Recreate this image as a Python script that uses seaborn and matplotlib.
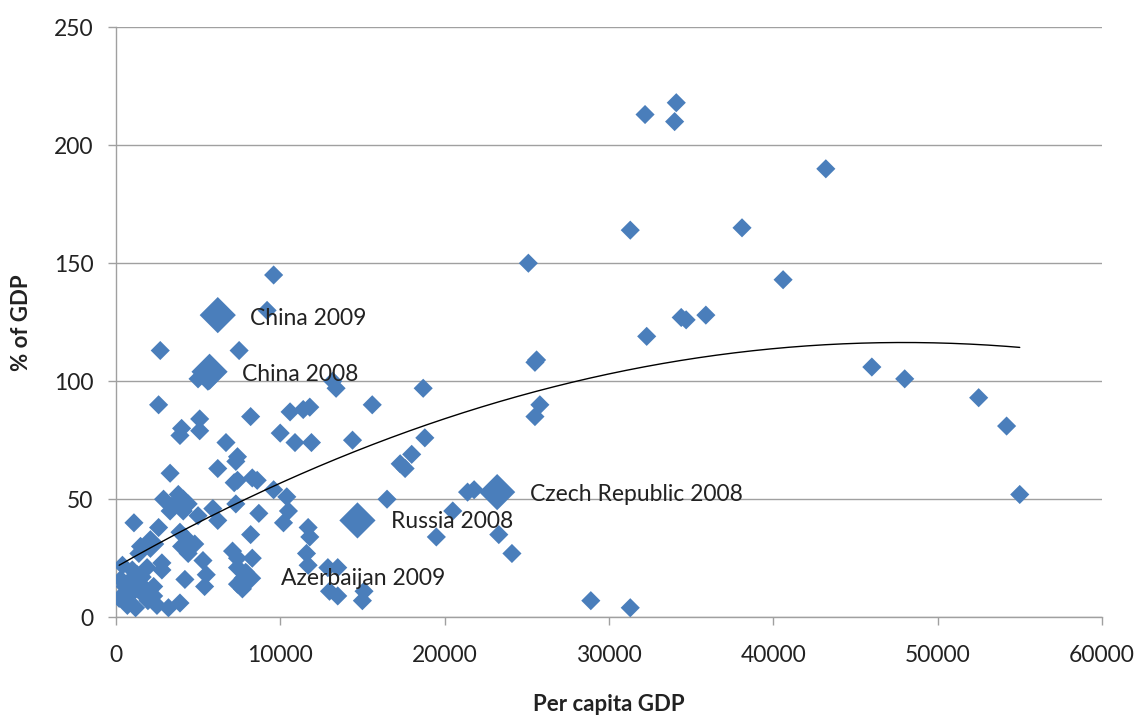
import numpy as np
import pandas as pd
import seaborn as sns
import matplotlib.pyplot as plt

# per capita GDP / % of GDP
gdp_x = [32200, 34100, 34000, 43200, 31300, 38100, 40600, 25100, 32300, 34400,
         34700, 35900, 25500, 25600, 25800, 25500, 46000, 48000, 52500, 54200,
         55000, 28900, 31300,
         21400, 21800, 20500, 23300, 24100, 19500, 16500, 18700, 18800, 18000,
         17300, 17600, 15600, 14400, 15100, 15000, 13000, 13500, 12900, 13500,
         11700, 11600, 11800, 11700, 10200, 10500, 10400, 9600, 13200, 13400,
         10600, 11400, 11800, 10000, 10900, 11900, 9600, 9200, 8200, 8300,
         8600, 7400, 7200, 7400, 7300, 6700, 6200, 7500, 2700, 5000, 5600,
         8700, 8200, 8300, 7100, 7400, 7400, 7900, 7400, 7700, 7300,
         5900, 6200, 5000, 4000, 3400, 4400, 3300, 2900, 3800, 4100, 3300,
         4100, 2600, 3900, 4000, 5100, 5100, 3900, 4200, 4000, 4400, 4800,
         5300, 5500, 5400, 4200,
         2600, 1100, 2800, 2800, 1900, 400, 1000, 550, 1200, 1600, 550,
         1950, 2300, 1200, 3200, 3900, 1400, 1500, 800, 300, 1600, 2300,
         200, 700, 1300, 1800, 2500, 900]
gdp_y = [213, 218, 210, 190, 164, 165, 143, 150, 119, 127,
         126, 128, 108, 109, 90, 85, 106, 101, 93, 81,
         52, 7, 4,
         53, 54, 45, 35, 27, 34, 50, 97, 76, 69,
         65, 63, 90, 75, 11, 7, 11, 9, 21, 21,
         22, 27, 34, 38, 40, 45, 51, 54, 100, 97,
         87, 88, 89, 78, 74, 74, 145, 130, 85, 59,
         58, 58, 57, 68, 66, 74, 63, 113, 113, 101, 100,
         44, 35, 25, 28, 25, 21, 19, 14, 12, 48,
         46, 41, 43, 48, 47, 48, 61, 50, 52, 50, 45,
         45, 90, 77, 80, 84, 79, 36, 34, 30, 27, 31,
         24, 18, 13, 16,
         38, 40, 23, 20, 21, 22, 20, 13, 14, 10, 7,
         7, 9, 4, 4, 6, 27, 30, 9, 16, 17, 13,
         8, 5, 18, 12, 5, 11]

# highlighted (bigger) markers
big_x = [6200, 5700, 14700, 23200]
big_y = [128, 104, 41, 53]
mid_x = [8000, 2100, 900]
mid_y = [16.5, 31, 14]

labels = ['China 2009', 'China 2008', 'Czech Republic 2008', 'Russia 2008', 'Azerbaijan 2009']
label_x = [8150, 7650, 25200, 16750, 10050]
label_y = [126.5, 103, 52, 40.5, 16.5]

blue = '#4a7ebb'

sns.set_theme(style='white')
plt.rcParams['font.family'] = ['Lato', 'DejaVu Sans']

fig = plt.figure(figsize=(11.36, 7.16), dpi=100)
ax = fig.add_axes([0.102, 0.138, 0.868, 0.824])

df = pd.DataFrame({'x': gdp_x, 'y': gdp_y})
sns.scatterplot(data=df, x='x', y='y', marker='D', s=95, color=blue,
                edgecolor='none', linewidth=0, ax=ax, zorder=3)
sns.scatterplot(x=mid_x, y=mid_y, marker='D', s=200, color=blue,
                edgecolor='none', linewidth=0, ax=ax, zorder=3)
sns.scatterplot(x=big_x, y=big_y, marker='D', s=340, color=blue,
                edgecolor='none', linewidth=0, ax=ax, zorder=3)

# polynomial (order 2) trendline like excel
all_x = np.array(gdp_x + big_x + mid_x, dtype=float)
all_y = np.array(gdp_y + big_y + mid_y, dtype=float)
coef = np.polyfit(all_x, all_y, 2)
xs = np.linspace(all_x.min(), all_x.max(), 200)
ax.plot(xs, np.polyval(coef, xs), color='black', lw=1, zorder=4)

for t, lx, ly in zip(labels, label_x, label_y):
    ax.text(lx, ly, t, fontsize=16.5, va='center', ha='left', color='#222222', zorder=5)

ax.set_xlim(0, 60000)
ax.set_ylim(0, 250)
ax.set_xticks(range(0, 60001, 10000))
ax.set_yticks(range(0, 251, 50))
ax.yaxis.grid(True, color='#a0a0a0', lw=1)
ax.xaxis.grid(False)
for s in ['top', 'right']:
    ax.spines[s].set_visible(False)
for s in ['left', 'bottom']:
    ax.spines[s].set_color('#a0a0a0')
    ax.spines[s].set_linewidth(1)
ax.tick_params(axis='both', direction='out', length=6, width=1, color='#a0a0a0',
               labelsize=16.5, labelcolor='#222222', left=True, bottom=True)
ax.tick_params(axis='x', pad=14)
ax.tick_params(axis='y', pad=10)

ax.set_xlabel('Per capita GDP', fontsize=16, fontweight='bold', labelpad=20, color='#222222')
ax.set_ylabel('% of GDP', fontsize=16, fontweight='bold', labelpad=16, color='#222222')

fig.savefig('out.png', dpi=100)
